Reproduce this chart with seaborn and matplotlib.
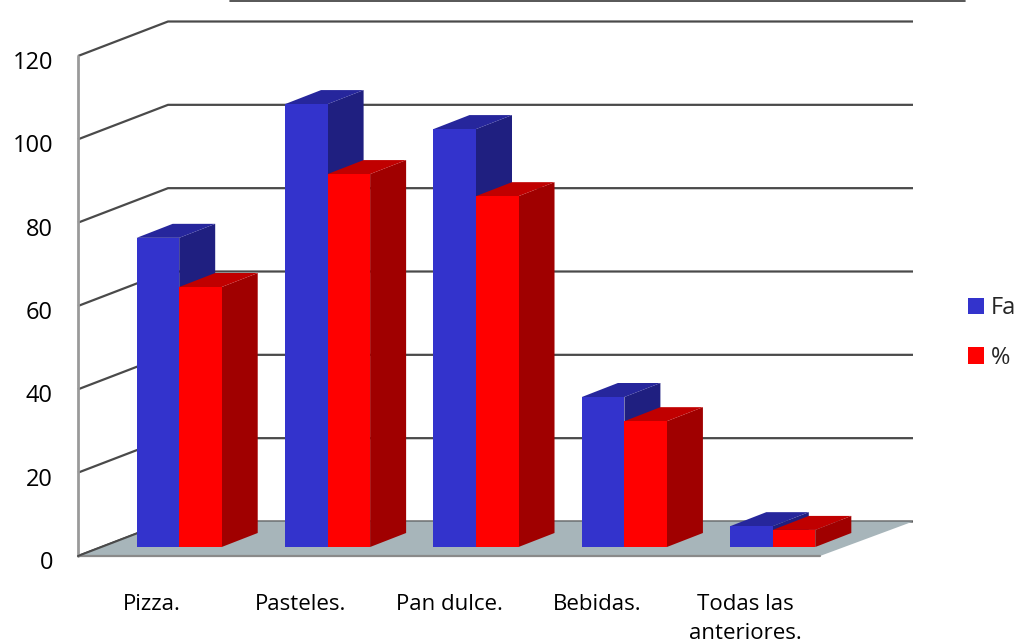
import numpy as np
import pandas as pd
import matplotlib
matplotlib.use("Agg")
import matplotlib.pyplot as plt
from matplotlib.lines import Line2D
from matplotlib.patches import Polygon
from matplotlib.transforms import ScaledTranslation
import seaborn as sns

categories = ["Pizza.", "Pasteles.", "Pan dulce.", "Bebidas.", "Todas las\nanteriores."]
fa_values = [74.2, 106.3, 100.3, 36, 5]
pct_values = [62.4, 89.5, 84.2, 30.2, 4.1]
series_names = ["Fa", "%"]
y_ticks = [0, 20, 40, 60, 80, 100, 120]

FRONT = {"Fa": "#3333CC", "%": "#FF0000"}
SIDE = {"Fa": "#1F1F80", "%": "#A00000"}
TOP = {"Fa": "#26269C", "%": "#C00000"}

W, H = 1018, 644
sns.set_theme(style="white")
plt.rcParams["font.family"] = ["Open Sans", "DejaVu Sans"]

fig = plt.figure(figsize=(W / 100, H / 100), dpi=100, facecolor="white")
ax = fig.add_axes([78 / W, 1 - 556 / H, (820 - 78) / W, (556 - 56) / H])

frame = pd.DataFrame({
    "categoria": categories * 2,
    "valor": fa_values + pct_values,
    "serie": [series_names[0]] * 5 + [series_names[1]] * 5,
})
sns.barplot(data=frame, x="categoria", y="valor", hue="serie", palette=FRONT,
            width=0.573, gap=0, saturation=1, dodge=True, linewidth=0, ax=ax)
ax.set_xlim(-0.5, 4.5)
ax.set_ylim(0, 120)

# pixel lengths expressed in axis units, used for the oblique depth effect
px_x = 5 / (820 - 78)
px_y = 120 / (556 - 56)

# back wall and floor of the box
wall_dx, wall_dy = 90 * px_x, 34.5 * px_y
right_x = 4.5 + 93 * px_x
for tick in y_ticks:
    ax.plot([-0.5, -0.5 + wall_dx, right_x], [tick, tick + wall_dy, tick + wall_dy],
            color="#4A4A4A", lw=1.6, clip_on=False, zorder=1, solid_capstyle="butt")
ax.add_patch(Polygon([(-0.5, 0), (-0.5 + wall_dx, wall_dy), (right_x, wall_dy), (4.5, 0)],
                     closed=True, facecolor="#A7B5BA", edgecolor="none",
                     clip_on=False, zorder=2))
ax.plot([-0.5, -0.5], [0, 120], color="#9A9A9A", lw=2, clip_on=False, zorder=3)
ax.plot([-0.5, 4.5], [0, 0], color="#8A8A8A", lw=1.6, clip_on=False, zorder=3)
ax.plot([-0.5, -0.5 + wall_dx], [0, wall_dy], color="#4A4A4A", lw=1.4, clip_on=False, zorder=3)

# move the bars onto their plane, then give each one a side and a top face
plane_dx, plane_dy = 27 * px_x, 9 * px_y
depth_dx, depth_dy = 36 * px_x, 14 * px_y
z = 4
for cat_index in range(len(categories)):
    for name, container in zip(series_names, ax.containers):
        bar = container.patches[cat_index]
        x0 = bar.get_x() + plane_dx
        x1 = x0 + bar.get_width()
        y0 = plane_dy
        y1 = y0 + bar.get_height()
        ax.add_patch(Polygon([(x1, y0), (x1 + depth_dx, y0 + depth_dy),
                              (x1 + depth_dx, y1 + depth_dy), (x1, y1)],
                             facecolor=SIDE[name], edgecolor="none", clip_on=False, zorder=z))
        ax.add_patch(Polygon([(x0, y1), (x0 + depth_dx, y1 + depth_dy),
                              (x1 + depth_dx, y1 + depth_dy), (x1, y1)],
                             facecolor=TOP[name], edgecolor="none", clip_on=False, zorder=z + 1))
        bar.set_x(x0)
        bar.set_y(y0)
        bar.set_clip_on(False)
        bar.set_zorder(z + 2)
        z += 3

for side in ax.spines.values():
    side.set_visible(False)
ax.set_xlabel("")
ax.set_ylabel("")
ax.set_yticks(y_ticks)
ax.tick_params(axis="y", length=0, pad=18, labelsize=17, labelcolor="black")
ax.tick_params(axis="x", length=0, pad=27, labelsize=16, labelcolor="black")
nudge = ScaledTranslation(0, -4 / 100, fig.dpi_scale_trans)
for label in ax.get_yticklabels():
    label.set_transform(label.get_transform() + nudge)
for label in ax.get_xticklabels():
    label.set_linespacing(1.55)

handles, labels = ax.get_legend_handles_labels()
ax.legend(handles, labels, loc="center left", bbox_to_anchor=(967.5 / W, 1 - 333 / H),
          bbox_transform=fig.transFigure, frameon=False, fontsize=17,
          handlelength=0.68, handleheight=0.68, handletextpad=0.3, labelspacing=1.08,
          borderpad=0, borderaxespad=0)

# rule along the top edge of the figure
fig.add_artist(Line2D([230 / W, 965 / W], [1 - 0.7 / H, 1 - 0.7 / H],
                      color="#3A3A3A", lw=1.2))

fig.savefig("out.png", dpi=100)
